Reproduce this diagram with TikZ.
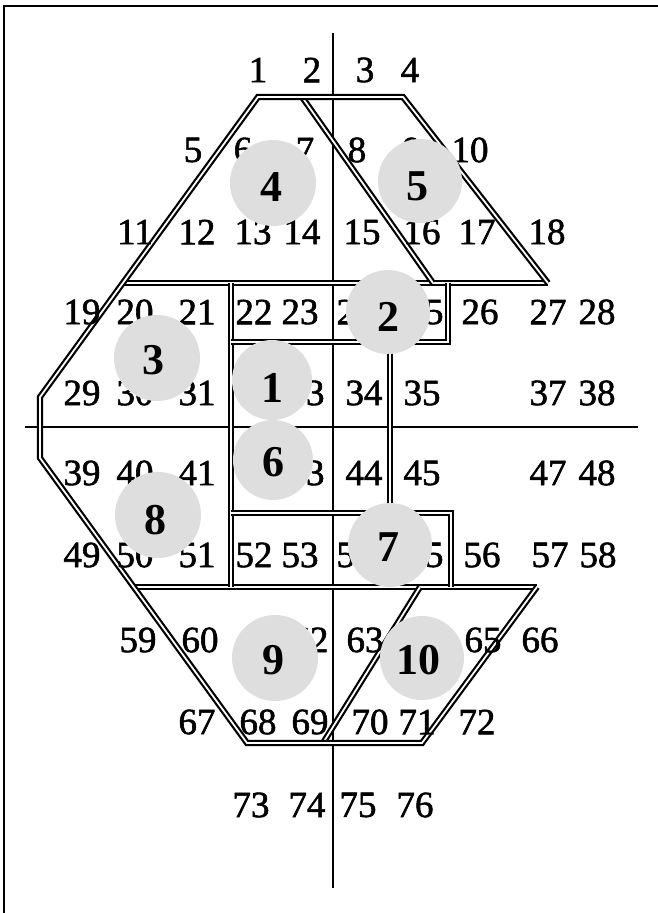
\documentclass[tikz,border=0pt]{standalone}
\usepackage{fontspec}
\setmainfont{Liberation Serif}
\newfontfamily\labfont[FakeBold=1.5]{Liberation Serif}
\begin{document}
\begin{tikzpicture}[x=1pt,y=-1pt,
  dbl/.style={draw=black, double=white, double distance=1.8pt, line width=2.2pt, line join=miter, line cap=butt},
  axisline/.style={draw=black, line width=1.6pt},
  frameline/.style={draw=black, line width=1.2pt},
  lab/.style={font=\labfont\fontsize{37}{37}\selectfont, inner sep=0pt, text=black},
  big/.style={font=\fontsize{44}{44}\selectfont\bfseries, inner sep=0pt, text=black},
  disc/.style={fill=black!13, draw=none}]
\useasboundingbox (0,0) rectangle (658,913);
\fill[white] (0,0) rectangle (658,913);
% frame
\draw[frameline] (4,913) -- (4,6) -- (658,6);
% axes
\coordinate (vt) at (333,33);
\coordinate (vb) at (333,888);
\coordinate (hl) at (25,427);
\coordinate (hr) at (638,427);
\draw[axisline] (vt) -- (vb);
\draw[axisline] (hl) -- (hr);
% corners
\coordinate (A) at (258,97);
\coordinate (B) at (403,97);
\coordinate (C) at (548,283);
\coordinate (D) at (40,397);
\coordinate (E) at (40,458);
\coordinate (F) at (247,743);
\coordinate (G) at (422,743);
\coordinate (H) at (537,587);
\coordinate (I) at (123,283);
\coordinate (J) at (134,587);
\coordinate (S1) at (302,97);
\coordinate (S2) at (433,283);
\coordinate (T1) at (420,587);
\coordinate (T2) at (323,743);
\coordinate (V1) at (231,283);
\coordinate (V2) at (231,587);
\coordinate (K1) at (231,342);
\coordinate (K2) at (448,342);
\coordinate (K3) at (448,283);
\coordinate (M1) at (390,342);
\coordinate (M2) at (390,513);
\coordinate (L1) at (231,513);
\coordinate (L2) at (451,513);
\coordinate (L3) at (451,587);
% double lines
\draw[dbl] (I) -- (C);
\draw[dbl] (J) -- (H);
\draw[dbl] (V1) -- (V2);
\draw[dbl] (K1) -- (K2) -- (K3);
\draw[dbl] (M1) -- (M2);
\draw[dbl] (L1) -- (L2) -- (L3);
\draw[dbl] (S1) -- (S2);
\draw[dbl] (T1) -- (T2);
\draw[dbl] (C) -- (B) -- (A) -- (D) -- (E) -- (F) -- (G) -- (H);
% labels
\foreach \t/\x/\y in {1/258/70,2/312/70,3/365/70,4/410/70,
  5/193/150,6/243/150,7/305/150,8/357/150,9/412/150,10/470/150,
  11/135/232,12/197/232,13/253/232,14/302/232,15/362/232,16/422/232,17/477/232,18/547/232,
  19/82/312,20/135/312,21/197/312,22/254/312,23/300/312,24/355/312,25/425/312,26/480/312,27/548/312,28/597/312,
  29/82/393,30/135/393,31/197/393,33/306/393,34/364/393,35/422/393,37/548/393,38/597/393,
  39/82/473,40/135/473,41/197/473,43/306/473,44/364/473,45/422/473,47/548/473,48/597/473,
  49/82/555,50/135/555,51/197/555,52/254/555,53/300/555,54/355/555,55/425/555,56/482/555,57/550/555,58/598/555,
  59/138/640,60/200/640,62/310/640,63/365/640,65/483/640,66/540/640,
  67/197/722,68/258/722,69/310/722,70/370/722,71/417/722,72/477/722,
  73/251/805,74/307/805,75/358/805,76/415/805}
  \node[lab] (n\t) at (\x,\y) {\t};
% discs
\foreach \x/\y/\r in {273/183/43,420/181/42,388/312/42,157/358/43,272/380/40,273/460/40,158/515/43,390/545/42,275/658/43,422/658/42}
  \fill[disc] (\x,\y) circle[radius=\r pt];
% region numbers
\node[big] (b4) at (271,187) {4};
\node[big] (b5) at (417,186) {5};
\node[big] (b2) at (388,317) {2};
\node[big] (b3) at (153,360) {3};
\node[big] (b1) at (272,388) {1};
\node[big] (b6) at (273,462) {6};
\node[big] (b8) at (155,520) {8};
\node[big] (b7) at (388,547) {7};
\node[big] (b9) at (273,660) {9};
\node[big] (b10) at (418,660) {10};
\end{tikzpicture}
\end{document}
